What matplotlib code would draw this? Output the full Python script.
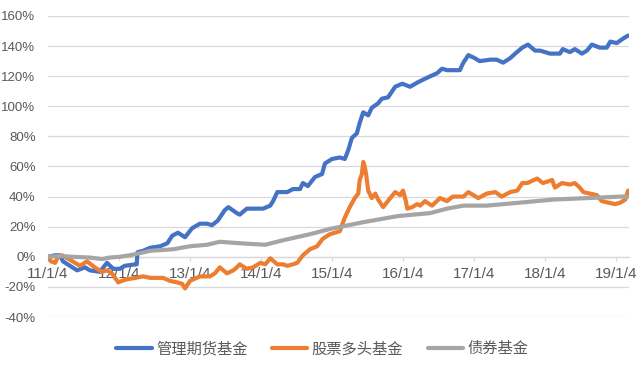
import matplotlib
matplotlib.use("Agg")
import matplotlib.pyplot as plt
import numpy as np
import pandas as pd

plt.rcParams['font.family'] = ['Liberation Sans', 'Noto Sans CJK SC', 'DejaVu Sans']

# ---- data (time in years since 2011-01-04, values in %) ----
series_names = ["管理期货基金", "股票多头基金", "债券基金"]
colors = ["#4472C4", "#ED7D31", "#A5A5A5"]

futures_t = [0.00, 0.10, 0.17, 0.21, 0.31, 0.41, 0.52, 0.59, 0.73, 0.83, 0.92, 1.01, 1.08,
             1.23, 1.25, 1.26, 1.34, 1.44, 1.58, 1.68, 1.75, 1.83, 1.93, 2.03, 2.14, 2.24,
             2.31, 2.39, 2.49, 2.54, 2.66, 2.70, 2.80, 2.94, 3.03, 3.13, 3.17, 3.23, 3.37,
             3.45, 3.55, 3.59, 3.66, 3.76, 3.86, 3.90, 4.00, 4.11, 4.18, 4.23, 4.28, 4.35,
             4.39, 4.44, 4.51, 4.56, 4.65, 4.70, 4.79, 4.89, 4.99, 5.10, 5.21, 5.34, 5.48,
             5.55, 5.62, 5.80, 5.85, 5.92, 6.01, 6.08, 6.23, 6.32, 6.41, 6.51, 6.58, 6.68,
             6.76, 6.86, 6.93, 7.07, 7.21, 7.25, 7.35, 7.42, 7.52, 7.59, 7.66, 7.77, 7.87,
             7.92, 8.01, 8.10, 8.17]
futures_v = [0, 1, 1, -3, -6, -9, -7, -9, -10, -4, -8, -8, -6,
             -5, -5, 3, 4, 6, 7, 9, 14, 16, 13, 19, 22, 22,
             21, 24, 31, 33, 29, 28, 32, 32, 32, 34, 37, 43, 43,
             45, 45, 49, 47, 53, 55, 62, 65, 66, 65, 71, 79, 82,
             89, 96, 94, 99, 102, 105, 106, 113, 115, 113, 116, 119, 122,
             125, 124, 124, 129, 134, 132, 130, 131, 131, 129, 132, 135, 139,
             141, 137, 137, 135, 135, 138, 136, 138, 135, 137, 141, 139, 139,
             143, 142, 145, 147]

equity_t = [0.00, 0.04, 0.10, 0.14, 0.20, 0.31, 0.38, 0.45, 0.55, 0.63, 0.69, 0.76, 0.83,
            0.90, 0.99, 1.04, 1.11, 1.23, 1.34, 1.44, 1.54, 1.62, 1.72, 1.82, 1.89, 1.93,
            2.00, 2.14, 2.28, 2.35, 2.42, 2.52, 2.61, 2.66, 2.70, 2.80, 2.89, 2.99, 3.06,
            3.13, 3.23, 3.31, 3.37, 3.45, 3.51, 3.59, 3.69, 3.79, 3.87, 3.97, 4.04, 4.11,
            4.18, 4.25, 4.32, 4.37, 4.39, 4.42, 4.44, 4.46, 4.48, 4.51, 4.56, 4.61, 4.65,
            4.72, 4.82, 4.89, 4.96, 5.00, 5.04, 5.06, 5.13, 5.20, 5.24, 5.31, 5.34, 5.41,
            5.52, 5.62, 5.70, 5.85, 5.92, 6.06, 6.18, 6.30, 6.39, 6.51, 6.61, 6.68, 6.75,
            6.89, 6.97, 7.10, 7.14, 7.24, 7.35, 7.42, 7.49, 7.54, 7.63, 7.73, 7.80, 7.89,
            7.99, 8.06, 8.13, 8.17]
equity_v = [0, -3, -4, 0, 1, -2, -4, -6, -3, -6, -8, -10, -9,
            -11, -17, -16, -15, -14, -13, -14, -14, -14, -16, -17, -18, -21,
            -16, -13, -13, -11, -7, -11, -9, -7, -5, -8, -7, -4, -5,
            -1, -5, -5, -6, -5, -4, 1, 5, 7, 12, 15, 16, 17,
            26, 33, 39, 42, 51, 55, 63, 60, 55, 44, 39, 42, 38,
            33, 39, 43, 41, 44, 37, 32, 33, 35, 34, 37, 36, 34,
            39, 37, 40, 40, 43, 39, 42, 43, 40, 43, 44, 49, 49,
            52, 49, 51, 46, 49, 48, 49, 46, 43, 42, 41, 37, 36,
            35, 36, 38, 44]

bond_t = [0.00, 0.17, 0.35, 0.59, 0.76, 0.87, 1.01, 1.15, 1.25, 1.44, 1.76, 2.00, 2.24,
          2.42, 2.70, 3.06, 3.31, 3.69, 3.97, 4.44, 4.92, 5.14, 5.38, 5.62, 5.85, 6.18,
          6.65, 7.11, 7.59, 8.06, 8.17]
bond_v = [0, 0.5, 0, -0.5, -1.5, -0.5, 0, 1, 2, 4, 5, 7, 8,
          10, 9, 8, 11, 15, 18.5, 23, 27, 28, 29, 32, 34, 34,
          36, 38, 39, 40, 40]

tick_labels = ["11/1/4", "12/1/4", "13/1/4", "14/1/4", "15/1/4", "16/1/4", "17/1/4", "18/1/4", "19/1/4"]
tick_years = [2011, 2012, 2013, 2014, 2015, 2016, 2017, 2018, 2019]
y_ticks = [-40, -20, 0, 20, 40, 60, 80, 100, 120, 140, 160]

start = pd.Timestamp("2011-01-04")


def to_dates(t):
    return start + pd.to_timedelta(np.asarray(t) * 365.25, unit="D")


fig = plt.figure(figsize=(6.38, 3.65), dpi=100)
ax = fig.add_axes([48 / 638, 1 - 317 / 365, (629 - 48) / 638, (317 - 16) / 365])

for t, v, name, c in zip([futures_t, equity_t, bond_t], [futures_v, equity_v, bond_v],
                         series_names, colors):
    ax.plot(to_dates(t), v, color=c, lw=3.0, label=name, zorder=3,
            solid_joinstyle="round", solid_capstyle="round")

ax.set_ylim(-40, 160)
ax.set_xlim(start, to_dates([8.183])[0])
ax.set_yticks(y_ticks)
ax.set_yticklabels([f"{v}%" for v in y_ticks])
ax.set_xticks([pd.Timestamp(f"{y}-01-04") for y in tick_years])
ax.set_xticklabels(tick_labels)

ax.grid(axis="y", color="#D9D9D9", lw=0.9)
ax.set_axisbelow(True)
for s in ["top", "right", "left"]:
    ax.spines[s].set_visible(False)
ax.spines["bottom"].set_position(("data", 0))
ax.spines["bottom"].set_color("#D9D9D9")
ax.spines["bottom"].set_linewidth(0.9)

ax.tick_params(axis="y", length=0, pad=9, labelsize=9.5, labelcolor="#595959")
ax.tick_params(axis="x", direction="out", length=3, width=0.9, color="#D9D9D9",
               pad=4, labelsize=11, labelcolor="#595959")

leg = fig.legend(loc="center", bbox_to_anchor=(0.5055, 1 - 349 / 365), ncol=3, frameon=False,
                 fontsize=11, handlelength=2.3, handletextpad=0.3, columnspacing=1.6)
for txt in leg.get_texts():
    txt.set_color("#595959")

fig.savefig("out.png", dpi=100)
